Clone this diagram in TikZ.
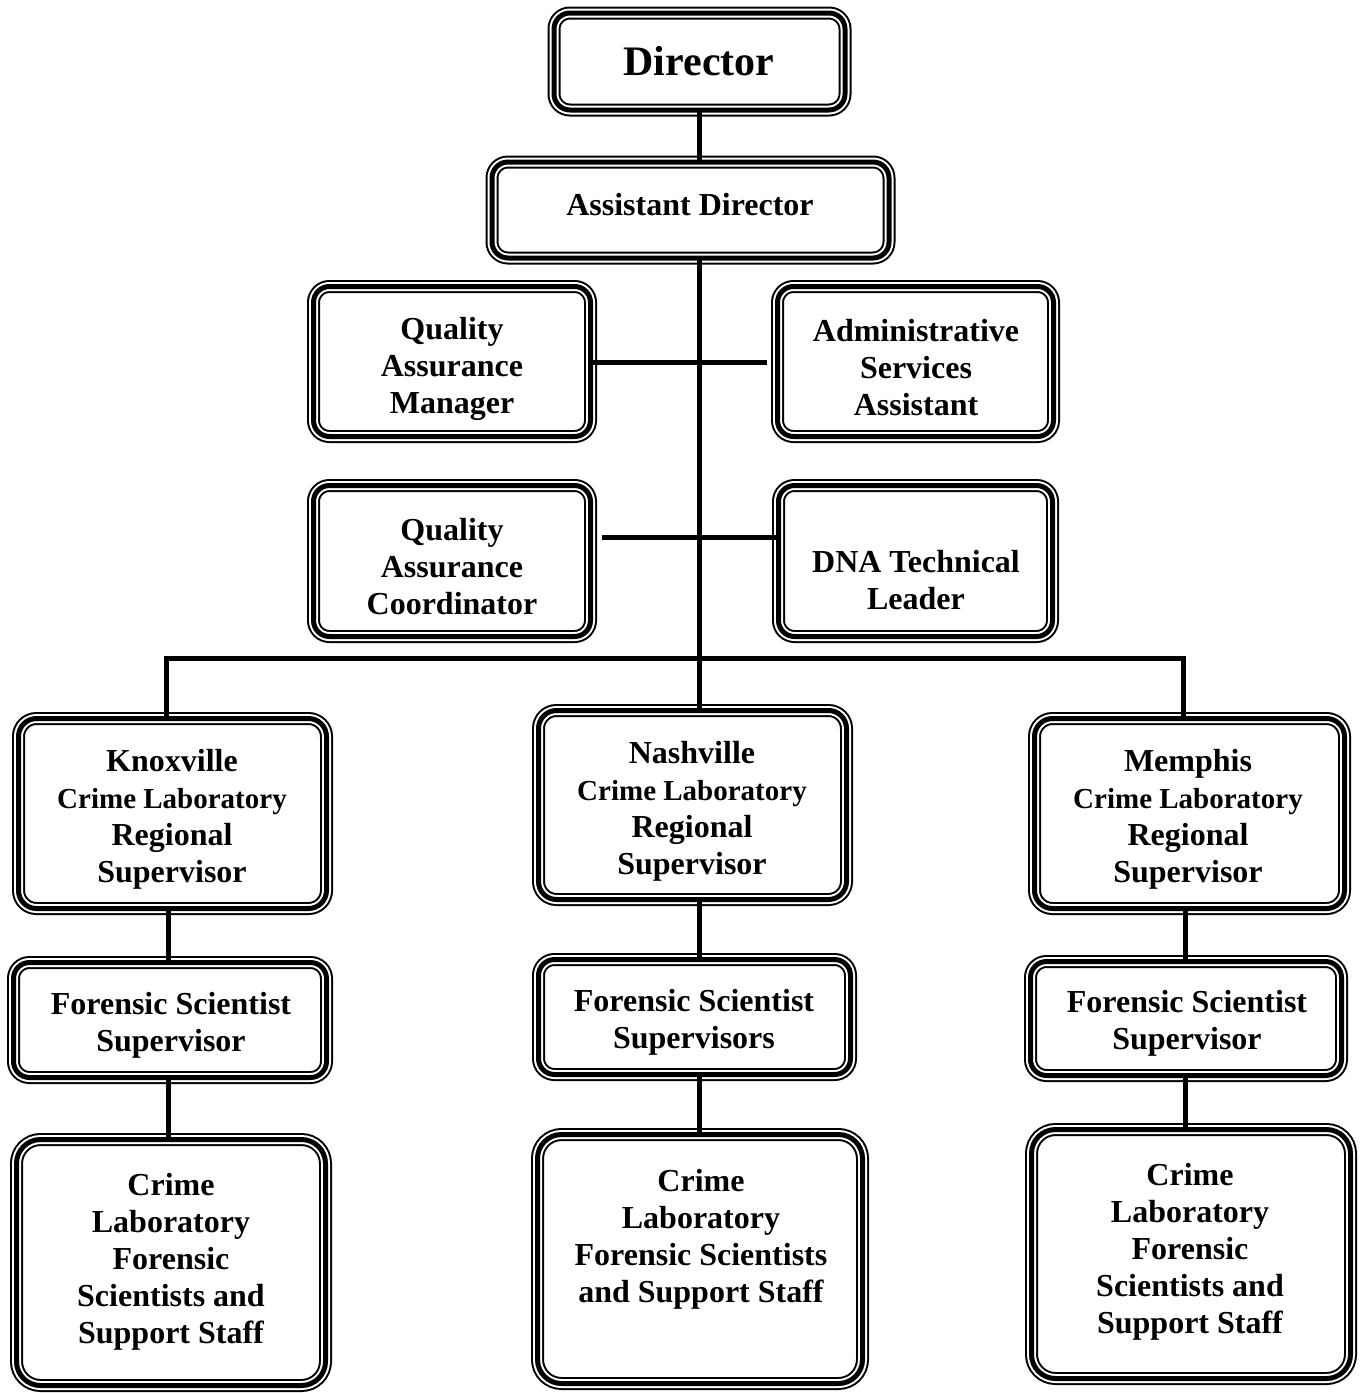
\documentclass[tikz,border=0pt]{standalone}
\usepackage{fontspec}
\setmainfont{Liberation Serif}
\begin{document}
\begin{tikzpicture}[x=1pt,y=-1pt,
  obox/.style={rectangle, rounded corners=#1, inner sep=0pt, outer sep=0pt,
    draw=black, line width=5pt,
    preaction={draw=black, line width=13pt},
    preaction={draw=white, line width=9pt}},
  obox/.default=16pt,
  lbl/.style={align=center, inner sep=0pt, font=\bfseries\fontsize{32}{37}\selectfont},
  link/.style={line width=5pt}]
\newcommand{\cl}{{\fontsize{29}{37}\selectfont Crime Laboratory}}
\useasboundingbox (0,0) rectangle (1364,1393);
% boxes
\node[obox, minimum width=291pt, minimum height=97pt] (dir) at (699.5,61.5) {};
\node[obox, minimum width=397pt, minimum height=96pt] (ad) at (690.5,210) {};
\node[obox, minimum width=277pt, minimum height=150pt] (qam) at (452,361.5) {};
\node[obox, minimum width=276pt, minimum height=150pt] (asa) at (915.5,361.5) {};
\node[obox, minimum width=277pt, minimum height=151pt] (qac) at (452,561) {};
\node[obox, minimum width=274pt, minimum height=151pt] (dna) at (915.5,561) {};
\node[obox=18pt, minimum width=308pt, minimum height=190pt] (knox) at (172.5,813.5) {};
\node[obox=18pt, minimum width=308pt, minimum height=189pt] (nash) at (692.5,805) {};
\node[obox=18pt, minimum width=310pt, minimum height=190pt] (mem) at (1189.5,813.5) {};
\node[obox, minimum width=313pt, minimum height=115pt] (kfss) at (170,1020) {};
\node[obox, minimum width=312pt, minimum height=115pt] (nfss) at (694.5,1017) {};
\node[obox, minimum width=311pt, minimum height=114pt] (mfss) at (1186,1018.5) {};
\node[obox=24pt, minimum width=309pt, minimum height=246pt] (kcl) at (171,1262.5) {};
\node[obox=24pt, minimum width=325pt, minimum height=249pt] (ncl) at (700,1259) {};
\node[obox=24pt, minimum width=319pt, minimum height=249pt] (mcl) at (1191,1254) {};
% texts
\node[lbl, font=\bfseries\fontsize{42}{48}\selectfont] (dirT) at (699,61) {Director};
\node[lbl] (adT) at (690,205) {Assistant Director};
\node[lbl] (qamT) at (452,369) {Quality\\Assurance\\Manager};
\node[lbl] (asaT) at (916,368) {Administrative\\Services\\Assistant};
\node[lbl] (qacT) at (452,567) {Quality\\Assurance\\Coordinator};
\node[lbl] (dnaT) at (916,580) {DNA Technical\\Leader};
\node[lbl] (knoxT) at (172,819) {Knoxville\\\cl\\Regional\\Supervisor};
\node[lbl] (nashT) at (692,811) {Nashville\\\cl\\Regional\\Supervisor};
\node[lbl] (memT) at (1188,819) {Memphis\\\cl\\Regional\\Supervisor};
\node[lbl] (kfssT) at (171,1025) {Forensic Scientist\\Supervisor};
\node[lbl] (nfssT) at (694,1022) {Forensic Scientist\\Supervisors};
\node[lbl] (mfssT) at (1187,1023) {Forensic Scientist\\Supervisor};
\node[lbl] (kclT) at (171,1262) {Crime\\Laboratory\\Forensic\\Scientists and\\Support Staff};
\node[lbl] (nclT) at (701,1239) {Crime\\Laboratory\\Forensic Scientists\\and Support Staff};
\node[lbl] (mclT) at (1190,1252) {Crime\\Laboratory\\Forensic\\Scientists and\\Support Staff};
% connector coordinates
\coordinate (spine) at (699,0);
\coordinate (kb) at (166,658);
\coordinate (mb) at (1183,658);
\coordinate (kx) at (168,0);
\coordinate (mx) at (1185,0);
\coordinate (qacl) at (602,537);
\coordinate (qaml) at (590,362);
% connectors
\draw[link] (spine |- dir.south) -- (spine |- ad.north);
\draw[link] (spine |- ad.south) -- (spine |- nash.north);
\draw[link] (qaml) -- ([xshift=-11pt]asa.west |- qaml);
\draw[link] (qacl) -- (dna.west |- qacl);
\draw[link] (kb |- knox.north) -- (kb) -- (mb) -- (mb |- mem.north);
\draw[link] (kx |- knox.south) -- (kx |- kfss.north);
\draw[link] (kx |- kfss.south) -- (kx |- kcl.north);
\draw[link] (spine |- nash.south) -- (spine |- nfss.north);
\draw[link] (spine |- nfss.south) -- (spine |- ncl.north);
\draw[link] (mx |- mem.south) -- (mx |- mfss.north);
\draw[link] (mx |- mfss.south) -- (mx |- mcl.north);
\end{tikzpicture}
\end{document}
